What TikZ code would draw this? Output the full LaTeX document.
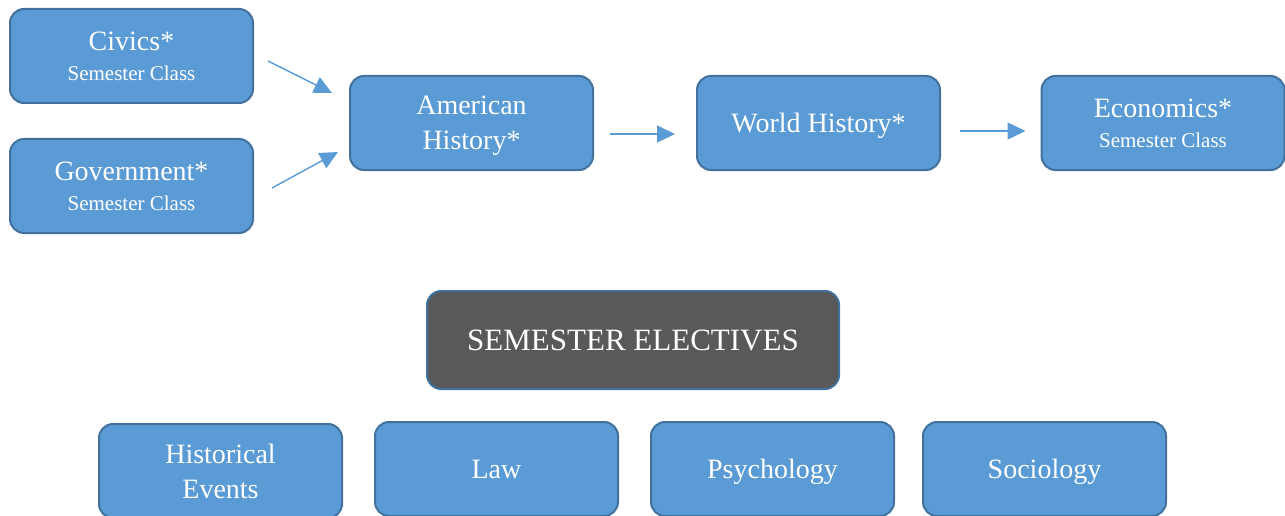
\documentclass[tikz,border=0pt]{standalone}
\usepackage{fontspec}
\setmainfont{Liberation Serif}
\usetikzlibrary{arrows.meta,calc}
\definecolor{boxblue}{HTML}{5B9BD5}
\definecolor{boxline}{HTML}{41719C}
\definecolor{boxgray}{HTML}{595959}
\tikzset{
  course/.style={draw=boxline, fill=boxblue, line width=2pt, rounded corners=14pt,
    minimum width=243pt, minimum height=94pt, text=white, align=center,
    text depth=0pt, font=\fontsize{28}{34}\selectfont},
  header/.style={course, fill=boxgray, minimum width=412pt, minimum height=98pt,
    font=\fontsize{31}{36}\selectfont},
  flow/.style={-{Triangle[length=18pt,width=17pt]}, draw=boxblue, line width=1.4pt},
}
\newcommand{\sem}{\\[-4pt]{\fontsize{21}{24}\selectfont Semester Class}}
\begin{document}
\begin{tikzpicture}[x=1pt,y=-1pt]
\useasboundingbox (0,0) rectangle (1285,516);
% Pflichtkurse
\node[course] (civ) at (131.5,56) {Civics*\sem};
\node[course] (gov) at (131.5,186) {Government*\sem};
\node[course] (am) at (471.5,123) {American\\[1pt]History*};
\node[course] (wh) at (818.5,123) {World History*};
\node[course] (ec) at (1163,123) {Economics*\sem};
% Pfeile
\coordinate (c1) at ($(civ.east)+(14,5)$);
\coordinate (c2) at ($(am.west)+(-17,-30)$);
\coordinate (g1) at ($(gov.east)+(18,2)$);
\coordinate (g2) at ($(am.west)+(-11,29)$);
\coordinate (a1) at ($(am.east)+(16,11)$);
\coordinate (a2) at ($(wh.west)+(-21,11)$);
\coordinate (w1) at ($(wh.east)+(19,8)$);
\coordinate (w2) at ($(ec.west)+(-15,8)$);
\draw[flow] (c1) -- (c2);
\draw[flow] (g1) -- (g2);
\draw[flow] (a1) -- (a2);
\draw[flow] (w1) -- (w2);
% Wahlfaecher
\node[header] (sel) at (633,340) {SEMESTER ELECTIVES};
\node[course] (he) at (220.5,471) {Historical\\[1pt]Events};
\node[course] (law) at (496.5,469) {Law};
\node[course] (psy) at (772.5,469) {Psychology};
\node[course] (soc) at (1044.5,469) {Sociology};
\end{tikzpicture}
\end{document}
